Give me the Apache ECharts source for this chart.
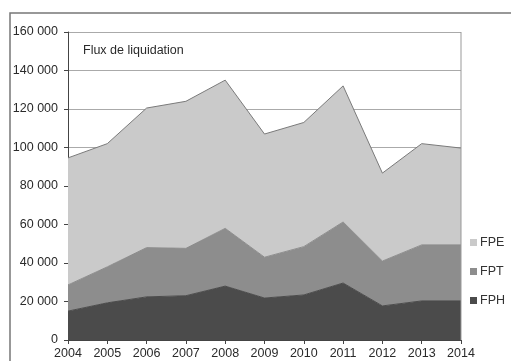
<!DOCTYPE html>
<html><head><meta charset="utf-8">
<script src="https://cdn.jsdelivr.net/npm/echarts@6/dist/echarts.min.js"></script>
<style>html,body{margin:0;padding:0;background:#fff}#c{width:511px;height:361px}</style>
</head><body><div id="c"></div>
<script>
const years = ['2004','2005','2006','2007','2008','2009','2010','2011','2012','2013','2014'];
const fph = [15000,19300,22400,23000,28000,21800,23400,29600,17700,20300,20300];
const fpt = [13600,18700,25600,24600,30000,21200,25100,31700,23300,29100,29100];
const fpe = [66000,64000,72500,76400,77000,64000,64500,70700,45700,52600,50300];
const yTicks = [0,20000,40000,60000,80000,100000,120000,140000,160000];

const chart = echarts.init(document.getElementById('c'));
const fmt = v => v === 0 ? '0' : String(v).replace(/\B(?=(\d{3})+(?!\d))/g, ' ');
function s(name, data, color, lineColor){
  return {name, type:'line', stack:'t', data, symbol:'none', smooth:false,
    lineStyle:{color:lineColor, width:1}, itemStyle:{color:color},
    areaStyle:{color:color, opacity:1}};
}
chart.setOption({
  animation:false,
  textStyle:{fontFamily:'Liberation Sans, Arial, sans-serif'},
  grid:{left:68, right:50, top:32, bottom:21},
  xAxis:{type:'category', data:years, boundaryGap:false,
    axisLine:{lineStyle:{color:'#444', width:1}},
    axisTick:{alignWithLabel:true, length:4, lineStyle:{color:'#444'}},
    axisLabel:{color:'#2a2a2a', fontSize:12.5, margin:7},
    splitLine:{show:false}},
  yAxis:{type:'value', min:yTicks[0], max:yTicks[yTicks.length-1], interval:20000,
    axisLine:{show:true, lineStyle:{color:'#444'}},
    axisTick:{show:true, length:4, lineStyle:{color:'#444'}},
    axisLabel:{color:'#2a2a2a', fontSize:12.5, margin:10, formatter:fmt},
    splitLine:{lineStyle:{color:'#aaa', width:1}}},
  legend:{orient:'vertical', left:465, top:231, itemGap:16, itemWidth:7, itemHeight:7,
    icon:'rect', data:['FPE','FPT','FPH'], textStyle:{color:'#333', fontSize:12.5, padding:[0,0,0,-2]}},
  graphic:[
    {type:'rect', shape:{x:10, y:13, width:600, height:400}, style:{fill:'none', stroke:'#777', lineWidth:1.5}, z:-1},
    {type:'line', shape:{x1:461, y1:32, x2:461, y2:340}, style:{stroke:'#999', lineWidth:1}, z:10},
    {type:'text', left:83, top:44, style:{text:'Flux de liquidation', fill:'#2a2a2a', fontSize:12.5, fontFamily:'Liberation Sans, Arial, sans-serif'}}
  ],
  series:[
    s('FPH', fph, '#4b4b4b', '#4b4b4b'),
    s('FPT', fpt, '#8d8d8d', '#8d8d8d'),
    s('FPE', fpe, '#cacaca', '#7a7a7a')
  ]
});
</script></body></html>
